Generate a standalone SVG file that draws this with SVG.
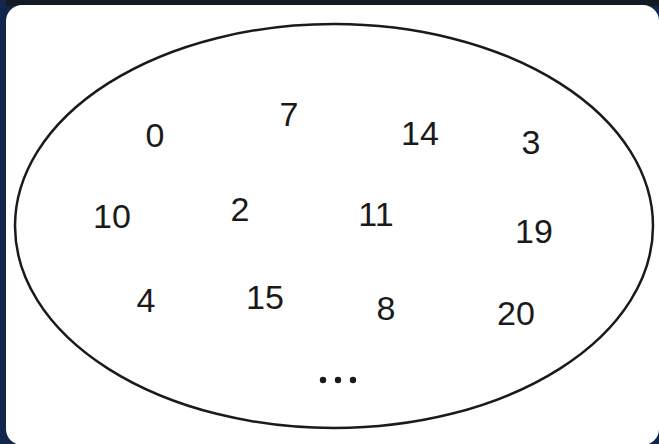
<svg xmlns="http://www.w3.org/2000/svg" width="659" height="444" viewBox="0 0 659 444">
<style>
.n{font-family:"Liberation Sans",Arial,sans-serif;font-size:34px;fill:#1a1a1a;text-anchor:middle}
</style>
<rect x="0" y="0" width="659" height="444" fill="#12254a"/>
<rect x="6" y="0" width="653" height="6" fill="#141a24"/>
<rect x="6" y="5" width="653" height="440" rx="16" fill="#ffffff"/>
<g id="set">
<ellipse cx="334" cy="226" rx="319" ry="202" fill="none" stroke="#1a1a1a" stroke-width="2.5"/>
</g>
<g id="numbers">
<text class="n" x="155" y="147">0</text>
<text class="n" x="289" y="126">7</text>
<text class="n" x="420" y="145">14</text>
<text class="n" x="531" y="154">3</text>
<text class="n" x="112" y="228">10</text>
<text class="n" x="240" y="221">2</text>
<text class="n" x="376" y="226">11</text>
<text class="n" x="534" y="243">19</text>
<text class="n" x="146" y="312">4</text>
<text class="n" x="265" y="309">15</text>
<text class="n" x="386" y="320">8</text>
<text class="n" x="516" y="325">20</text>
</g>
<g id="ellipsis" fill="#1a1a1a">
<circle cx="323" cy="380" r="3.2"/>
<circle cx="338" cy="380" r="3.2"/>
<circle cx="353" cy="380" r="3.2"/>
</g>
</svg>
